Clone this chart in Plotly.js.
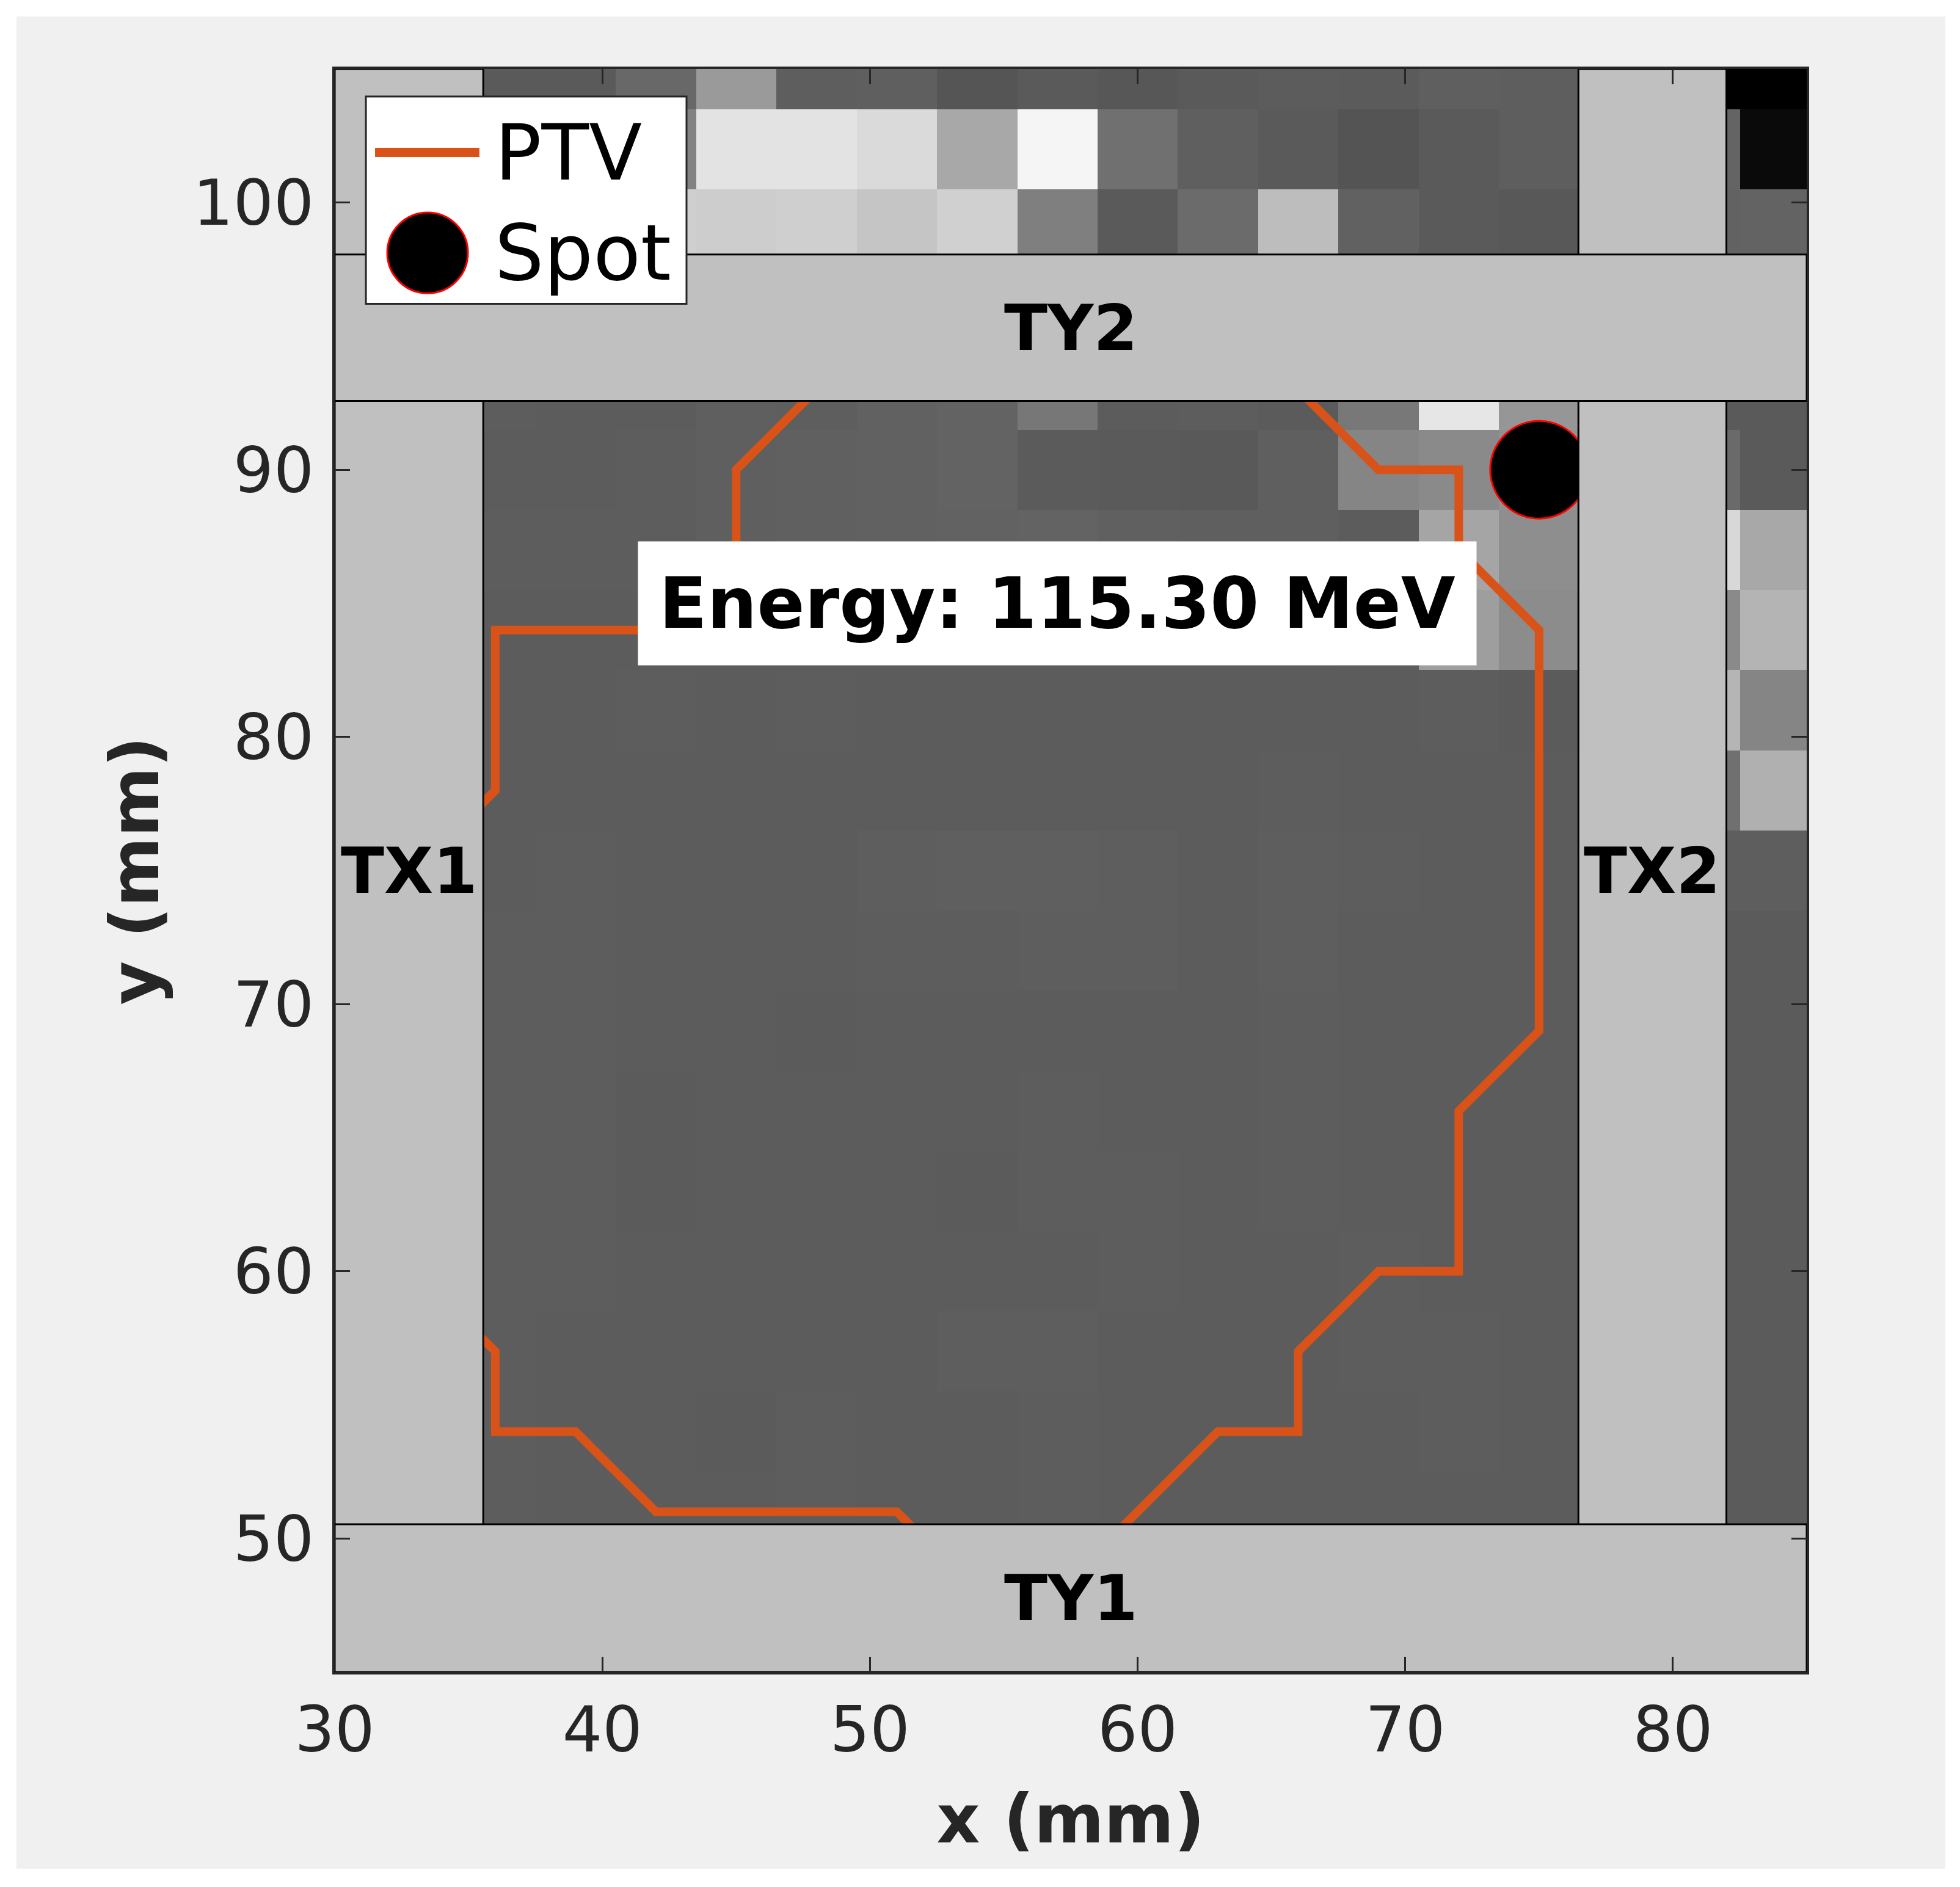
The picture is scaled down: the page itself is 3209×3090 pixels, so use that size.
<!DOCTYPE html>
<html>
<head>
<meta charset="utf-8">
<script src="https://cdn.plot.ly/plotly-3.0.1.min.js"></script>
<style>
  html, body { margin: 0; padding: 0; background: #ffffff; }
  #chart { position: absolute; left: 27px; top: 27px; width: 3158px; height: 3033px; }
</style>
</head>
<body>
<div id="chart"></div>
<script>
// Grid of image cell centres (mm)
const xCenters = [30, 33, 36, 39, 42, 45, 48, 51, 54, 57, 60, 63, 66, 69, 72, 75, 78, 81, 84];
const yCenters = [45, 48, 51, 54, 57, 60, 63, 66, 69, 72, 75, 78, 81, 84, 87, 90, 93, 96, 99, 102, 105];

// Grey level of every cell (0 = black, 255 = white), one row per y centre, bottom to top
const grayLevels = [
  [92, 92, 92, 92, 92, 92, 92, 92, 92, 92, 92, 92, 92, 92, 92, 92, 92, 91, 91],
  [92, 92, 92, 92, 92, 92, 92, 92, 92, 92, 92, 92, 92, 92, 92, 92, 92, 91, 91],
  [92, 92, 93, 92, 92, 92, 93, 92, 92, 93, 92, 92, 92, 92, 92, 92, 92, 91, 91],
  [92, 92, 93, 92, 92, 91, 93, 92, 92, 93, 92, 92, 92, 92, 93, 92, 92, 91, 91],
  [92, 92, 93, 92, 92, 92, 92, 92, 94, 94, 92, 92, 92, 93, 93, 92, 92, 91, 91],
  [92, 92, 93, 93, 92, 92, 92, 92, 92, 92, 93, 92, 92, 93, 92, 92, 92, 91, 91],
  [92, 92, 93, 93, 91, 92, 92, 92, 91, 93, 93, 92, 93, 92, 92, 92, 92, 91, 91],
  [92, 92, 93, 93, 91, 92, 92, 92, 92, 93, 92, 92, 93, 92, 92, 92, 92, 91, 91],
  [92, 92, 93, 93, 92, 92, 91, 92, 92, 92, 92, 92, 93, 92, 92, 92, 92, 91, 91],
  [92, 92, 93, 93, 92, 92, 92, 93, 93, 94, 94, 92, 94, 92, 92, 92, 92, 91, 91],
  [92, 92, 92, 93, 92, 92, 92, 94, 95, 95, 94, 92, 94, 93, 92, 92, 92, 94, 94],
  [92, 92, 92, 92, 92, 92, 92, 92, 92, 92, 92, 92, 93, 92, 92, 92, 92, 112, 176],
  [92, 92, 92, 92, 93, 92, 93, 92, 92, 92, 92, 92, 92, 92, 93, 91, 92, 181, 133],
  [92, 92, 92, 92, 92, 92, 92, 92, 92, 92, 92, 92, 92, 93, 158, 140, 92, 138, 180],
  [92, 92, 93, 93, 93, 95, 96, 97, 98, 99, 96, 95, 95, 92, 165, 142, 92, 216, 168],
  [92, 92, 92, 92, 93, 95, 96, 97, 99, 91, 90, 89, 95, 133, 138, 145, 92, 106, 90],
  [92, 92, 93, 92, 92, 95, 94, 97, 99, 119, 92, 93, 91, 120, 230, 150, 92, 90, 90],
  [92, 92, 92, 92, 92, 92, 92, 92, 92, 92, 92, 92, 92, 92, 92, 92, 92, 92, 92],
  [92, 92, 205, 205, 207, 205, 207, 197, 208, 127, 90, 107, 189, 97, 90, 88, 92, 98, 99],
  [92, 92, 200, 210, 130, 227, 227, 218, 168, 245, 112, 95, 90, 84, 90, 94, 92, 100, 10],
  [92, 92, 90, 90, 104, 154, 94, 95, 85, 90, 87, 90, 92, 91, 95, 94, 92, 0, 0]
];

// PTV contour (mm), closed polygon
const ptvX = [48, 45, 45, 42, 36, 36, 35, 33, 33, 35, 36, 36, 39, 42, 51, 52, 53, 58, 59, 60, 63, 66, 66, 69, 72, 72, 75, 75, 72, 72, 69, 66, 63, 51, 48];
const ptvY = [93, 90, 87, 84, 84, 78, 77, 75, 60, 58, 57, 54, 54, 51, 51, 50, 49, 49, 50, 51, 54, 54, 57, 60, 60, 66, 69, 84, 87, 90, 90, 93, 95, 95, 93];

// Spot position (mm)
const spotX = [75];
const spotY = [90];

// Jaw rectangles (mm)
const jawNames = ['TX1', 'TX2', 'TY1', 'TY2'];
const jawX0 = [30, 76.47, 30, 30];
const jawX1 = [35.55, 82.0, 85, 85];
const jawY0 = [45, 45, 45, 92.58];
const jawY1 = [105, 105, 50.53, 98.06];

const energyText = 'Energy: 115.30 MeV';
const energyPos = [57, 85];

const xTicks = [30, 40, 50, 60, 70, 80];
const yTicks = [50, 60, 70, 80, 90, 100];

const FONT = 'DejaVu Sans, sans-serif';
const AXIS_COLOR = '#262626';

const traces = [];

traces.push({
  type: 'heatmap',
  x: xCenters,
  y: yCenters,
  z: grayLevels,
  zmin: 0,
  zmax: 255,
  zsmooth: false,
  colorscale: [[0, '#000000'], [1, '#ffffff']],
  showscale: false,
  hoverinfo: 'skip'
});

traces.push({
  type: 'scatter',
  mode: 'lines',
  x: ptvX,
  y: ptvY,
  line: { color: '#D95319', width: 14 },
  hoverinfo: 'skip'
});

traces.push({
  type: 'scatter',
  mode: 'markers',
  x: spotX,
  y: spotY,
  marker: { size: 160, color: '#000000', line: { color: '#ff0000', width: 3 } },
  hoverinfo: 'skip'
});

const annotations = [];
jawNames.forEach((name, i) => {
  traces.push({
    type: 'scatter',
    mode: 'lines',
    x: [jawX0[i], jawX1[i], jawX1[i], jawX0[i], jawX0[i]],
    y: [jawY0[i], jawY0[i], jawY1[i], jawY1[i], jawY0[i]],
    fill: 'toself',
    fillcolor: '#c0c0c0',
    line: { color: '#000000', width: 3 },
    hoverinfo: 'skip'
  });
  annotations.push({
    x: (jawX0[i] + jawX1[i]) / 2,
    y: (jawY0[i] + jawY1[i]) / 2,
    xref: 'x', yref: 'y',
    text: name,
    showarrow: false,
    font: { family: FONT, size: 104, color: '#000000', weight: 'bold' }
  });
});

annotations.push({
  x: energyPos[0], y: energyPos[1], xref: 'x', yref: 'y',
  text: energyText,
  showarrow: false,
  bgcolor: '#ffffff',
  borderpad: 34,
  font: { family: FONT, size: 115, color: '#000000', weight: 'bold' }
});

// Legend box, drawn by hand so the symbols keep their full size
const legendBox = { x0: 0.0212, x1: 0.239, y0: 0.8535, y1: 0.9829 };
const legendRows = [
  { label: 'PTV', y: 0.948 },
  { label: 'Spot', y: 0.8853 }
];
const shapes = [
  {
    type: 'rect', xref: 'paper', yref: 'paper', layer: 'above',
    x0: legendBox.x0, x1: legendBox.x1, y0: legendBox.y0, y1: legendBox.y1,
    fillcolor: '#ffffff', line: { color: AXIS_COLOR, width: 3 }
  },
  {
    type: 'line', xref: 'paper', yref: 'paper', layer: 'above',
    x0: 0.0274, x1: 0.0983, y0: legendRows[0].y, y1: legendRows[0].y,
    line: { color: '#D95319', width: 15 }
  },
  {
    type: 'circle', xref: 'paper', yref: 'paper', layer: 'above',
    x0: 0.0631 - 0.0274, x1: 0.0631 + 0.0274,
    y0: legendRows[1].y - 0.0252, y1: legendRows[1].y + 0.0252,
    fillcolor: '#000000', line: { color: '#ff0000', width: 3 }
  }
];
legendRows.forEach(r => {
  annotations.push({
    x: 0.1078, y: r.y, xref: 'paper', yref: 'paper',
    xanchor: 'left', yanchor: 'middle',
    text: r.label, showarrow: false,
    font: { family: FONT, size: 127, color: '#000000' }
  });
});

const layout = {
  width: 3158,
  height: 3033,
  margin: { l: 521, r: 227, t: 86, b: 322 },
  paper_bgcolor: '#f0f0f0',
  plot_bgcolor: '#ffffff',
  showlegend: false,
  font: { family: FONT, color: AXIS_COLOR },
  xaxis: {
    range: [30, 85],
    tickvals: xTicks,
    ticktext: xTicks.map(String),
    ticks: 'inside', ticklen: 25, tickwidth: 3, tickcolor: AXIS_COLOR,
    showline: true, linecolor: AXIS_COLOR, linewidth: 4, mirror: 'allticks',
    showgrid: false, zeroline: false,
    tickfont: { family: FONT, size: 103, color: AXIS_COLOR },
    ticklabelstandoff: 2,
    title: { text: 'x (mm)', font: { family: FONT, size: 110, color: AXIS_COLOR, weight: 'bold' }, standoff: 50 }
  },
  yaxis: {
    range: [45, 105],
    tickvals: yTicks,
    ticktext: yTicks.map(String),
    ticks: 'inside', ticklen: 25, tickwidth: 3, tickcolor: AXIS_COLOR,
    showline: true, linecolor: AXIS_COLOR, linewidth: 4, mirror: 'allticks',
    showgrid: false, zeroline: false,
    tickfont: { family: FONT, size: 104, color: AXIS_COLOR },
    ticklabelstandoff: 9,
    title: { text: 'y (mm)', font: { family: FONT, size: 110, color: AXIS_COLOR, weight: 'bold' }, standoff: 20 }
  },
  shapes: shapes,
  annotations: annotations
};

Plotly.newPlot('chart', traces, layout, { displayModeBar: false, staticPlot: true });
</script>
</body>
</html>
